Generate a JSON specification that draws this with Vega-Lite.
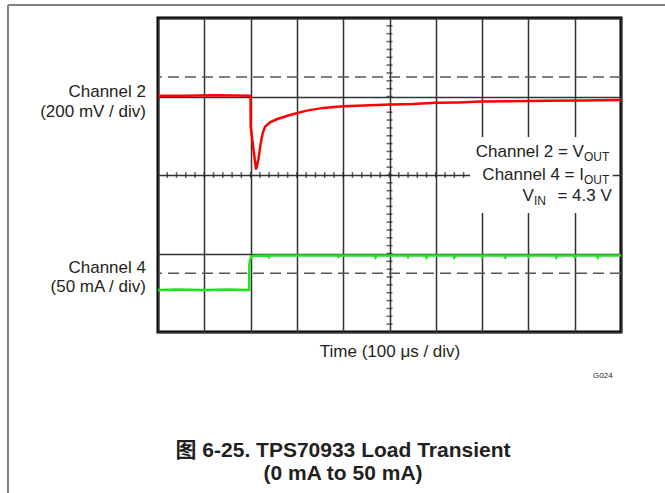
{
  "$schema": "https://vega.github.io/schema/vega-lite/v6.json",
  "width": 463,
  "height": 314,
  "autosize": {"type": "none"},
  "padding": {"left": 158, "top": 18, "right": 44, "bottom": 161},
  "background": "white",
  "config": {
    "view": {"stroke": "#000000", "strokeWidth": 3},
    "font": "Liberation Sans",
    "axis": {"domain": false, "ticks": false, "labels": false, "grid": true, "gridColor": "#333333", "gridWidth": 1.5, "gridOpacity": 1}
  },
  "datasets": {
    "frame": [
      {"t": -324, "t2": 1095, "v": 4.33, "v2": 4.33},
      {"t": -324, "t2": -324, "v": 4.33, "v2": -8.2}
    ],
    "dash": [{"v": 2.5}, {"v": -2.5}],
    "hticks": [
      {"t": 20}, {"t": 40}, {"t": 60}, {"t": 80}, {"t": 100}, {"t": 120}, {"t": 140}, {"t": 160}, {"t": 180}, {"t": 200},
      {"t": 220}, {"t": 240}, {"t": 260}, {"t": 280}, {"t": 300}, {"t": 320}, {"t": 340}, {"t": 360}, {"t": 380}, {"t": 400},
      {"t": 420}, {"t": 440}, {"t": 460}, {"t": 480}, {"t": 500}, {"t": 520}, {"t": 540}, {"t": 560}, {"t": 580}, {"t": 600},
      {"t": 620}, {"t": 640}, {"t": 660}, {"t": 680}, {"t": 700}, {"t": 720}, {"t": 740}, {"t": 760}, {"t": 780}, {"t": 800},
      {"t": 820}, {"t": 840}, {"t": 860}, {"t": 880}, {"t": 900}, {"t": 920}, {"t": 940}, {"t": 960}, {"t": 980}
    ],
    "vticks": [
      {"v": -3.8}, {"v": -3.6}, {"v": -3.4}, {"v": -3.2}, {"v": -3.0}, {"v": -2.8}, {"v": -2.6}, {"v": -2.4}, {"v": -2.2}, {"v": -2.0},
      {"v": -1.8}, {"v": -1.6}, {"v": -1.4}, {"v": -1.2}, {"v": -1.0}, {"v": -0.8}, {"v": -0.6}, {"v": -0.4}, {"v": -0.2}, {"v": 0},
      {"v": 0.2}, {"v": 0.4}, {"v": 0.6}, {"v": 0.8}, {"v": 1.0}, {"v": 1.2}, {"v": 1.4}, {"v": 1.6}, {"v": 1.8}, {"v": 2.0},
      {"v": 2.2}, {"v": 2.4}, {"v": 2.6}, {"v": 2.8}, {"v": 3.0}, {"v": 3.2}, {"v": 3.4}, {"v": 3.6}, {"v": 3.8}
    ],
    "box": [{"t": 674, "t2": 982, "v": -0.97, "v2": 0.97}],
    "ch2": [
      {"t": 0, "v": 2.02}, {"t": 60, "v": 2.02}, {"t": 120, "v": 2.03}, {"t": 199.8, "v": 2.02},
      {"t": 200.2, "v": 1.23}, {"t": 207.3, "v": 0.55}, {"t": 211.7, "v": 0.14}, {"t": 216.7, "v": 0.38},
      {"t": 221.8, "v": 0.81}, {"t": 226.1, "v": 1.06}, {"t": 231.1, "v": 1.23}, {"t": 241.9, "v": 1.34},
      {"t": 256.3, "v": 1.42}, {"t": 285, "v": 1.53}, {"t": 321, "v": 1.64}, {"t": 357, "v": 1.71},
      {"t": 400, "v": 1.75}, {"t": 445, "v": 1.77}, {"t": 487, "v": 1.79}, {"t": 550, "v": 1.81},
      {"t": 600, "v": 1.84}, {"t": 650, "v": 1.85}, {"t": 695, "v": 1.87}, {"t": 760, "v": 1.88},
      {"t": 840, "v": 1.89}, {"t": 920, "v": 1.9}, {"t": 1000, "v": 1.91}
    ],
    "ch4": [
      {"t": 0, "v": -2.93}, {"t": 40, "v": -2.92}, {"t": 100, "v": -2.93}, {"t": 150, "v": -2.92}, {"t": 196.8, "v": -2.93},
      {"t": 197.3, "v": -2.3}, {"t": 199, "v": -2.15}, {"t": 202, "v": -2.08}, {"t": 206, "v": -2.06},
      {"t": 238, "v": -2.05}, {"t": 240, "v": -2.09}, {"t": 242, "v": -2.05},
      {"t": 388, "v": -2.05}, {"t": 390, "v": -2.08}, {"t": 392, "v": -2.05},
      {"t": 468, "v": -2.05}, {"t": 470, "v": -2.1}, {"t": 472, "v": -2.05},
      {"t": 538, "v": -2.05}, {"t": 540, "v": -2.09}, {"t": 542, "v": -2.05},
      {"t": 578, "v": -2.05}, {"t": 580, "v": -2.1}, {"t": 582, "v": -2.05},
      {"t": 638, "v": -2.05}, {"t": 640, "v": -2.1}, {"t": 642, "v": -2.05},
      {"t": 698, "v": -2.05}, {"t": 700, "v": -2.09}, {"t": 702, "v": -2.05},
      {"t": 748, "v": -2.05}, {"t": 750, "v": -2.1}, {"t": 752, "v": -2.05},
      {"t": 798, "v": -2.05}, {"t": 800, "v": -2.08}, {"t": 802, "v": -2.05},
      {"t": 858, "v": -2.05}, {"t": 860, "v": -2.1}, {"t": 862, "v": -2.05},
      {"t": 898, "v": -2.05}, {"t": 900, "v": -2.09}, {"t": 902, "v": -2.05},
      {"t": 948, "v": -2.05}, {"t": 950, "v": -2.1}, {"t": 952, "v": -2.05},
      {"t": 1000, "v": -2.05}
    ],
    "side": [
      {"t": -26, "v": 1.975, "text": "Channel 2"},
      {"t": -26, "v": 1.478, "text": "(200 mV / div)"},
      {"t": -26, "v": -2.497, "text": "Channel 4"},
      {"t": -26, "v": -2.98, "text": "(50 mA / div)"}
    ],
    "ann": [
      {"t": 920, "v": 0.459, "text": "Channel 2 = V"},
      {"t": 920, "v": -0.127, "text": "Channel 4 = I"},
      {"t": 812, "v": -0.675, "text": "V"},
      {"t": 980, "v": -0.675, "text": "= 4.3 V"}
    ],
    "sub": [
      {"t": 920, "v": 0.357, "text": "OUT"},
      {"t": 920, "v": -0.229, "text": "OUT"},
      {"t": 812, "v": -0.777, "text": "IN"}
    ],
    "gid": [{"t": 982, "v": -5.17, "text": "G024"}],
    "caption": [
      {"t": 399.6, "v": -7.18, "text": "图 6-25. TPS70933 Load Transient"},
      {"t": 399.6, "v": -7.77, "text": "(0 mA to 50 mA)"}
    ]
  },
  "layer": [
    {
      "data": {"name": "dash"},
      "mark": {"type": "rule", "color": "#555555", "strokeWidth": 1.5, "strokeDash": [11, 6]},
      "encoding": {
        "y": {"field": "v", "type": "quantitative", "scale": {"domain": [-4, 4], "nice": false, "zero": false},
              "axis": {"values": [-4, -3, -2, -1, 0, 1, 2, 3, 4], "title": null}}
      }
    },
    {
      "data": {"name": "hticks"},
      "mark": {"type": "tick", "orient": "vertical", "color": "#222222", "size": 6, "thickness": 1.5},
      "encoding": {
        "x": {"field": "t", "type": "quantitative", "scale": {"domain": [0, 1000], "nice": false, "zero": false},
              "axis": {"values": [0, 100, 200, 300, 400, 500, 600, 700, 800, 900, 1000], "title": "Time (100 μs / div)",
                       "titleFontSize": 17, "titleFontWeight": "normal", "titleColor": "#231f20", "titlePadding": 11, "titleFont": "Liberation Sans"}},
        "y": {"datum": 0, "type": "quantitative"}
      }
    },
    {
      "data": {"name": "vticks"},
      "mark": {"type": "tick", "orient": "horizontal", "color": "#222222", "size": 6, "thickness": 1.5},
      "encoding": {
        "x": {"datum": 500, "type": "quantitative"},
        "y": {"field": "v", "type": "quantitative"}
      }
    },
    {
      "data": {"name": "box"},
      "mark": {"type": "rect", "fill": "white"},
      "encoding": {
        "x": {"field": "t", "type": "quantitative"},
        "x2": {"field": "t2"},
        "y": {"field": "v", "type": "quantitative"},
        "y2": {"field": "v2"}
      }
    },
    {
      "data": {"name": "frame"},
      "mark": {"type": "rule", "color": "#808080", "strokeWidth": 2},
      "encoding": {
        "x": {"field": "t", "type": "quantitative"},
        "x2": {"field": "t2"},
        "y": {"field": "v", "type": "quantitative"},
        "y2": {"field": "v2"}
      }
    },
    {
      "data": {"name": "ch4"},
      "mark": {"type": "line", "color": "#1ee61e", "strokeWidth": 2.5, "interpolate": "linear"},
      "encoding": {
        "x": {"field": "t", "type": "quantitative"},
        "y": {"field": "v", "type": "quantitative"}
      }
    },
    {
      "data": {"name": "ch2"},
      "mark": {"type": "line", "color": "#ff0000", "strokeWidth": 2.5, "interpolate": "linear"},
      "encoding": {
        "x": {"field": "t", "type": "quantitative"},
        "y": {"field": "v", "type": "quantitative"}
      }
    },
    {
      "data": {"name": "side"},
      "mark": {"type": "text", "align": "right", "baseline": "alphabetic", "fontSize": 17, "color": "#231f20", "font": "Liberation Sans"},
      "encoding": {
        "x": {"field": "t", "type": "quantitative"},
        "y": {"field": "v", "type": "quantitative"},
        "text": {"field": "text"}
      }
    },
    {
      "data": {"name": "ann"},
      "mark": {"type": "text", "align": "right", "baseline": "alphabetic", "fontSize": 17, "color": "#231f20", "font": "Liberation Sans"},
      "encoding": {
        "x": {"field": "t", "type": "quantitative"},
        "y": {"field": "v", "type": "quantitative"},
        "text": {"field": "text"}
      }
    },
    {
      "data": {"name": "sub"},
      "mark": {"type": "text", "align": "left", "baseline": "alphabetic", "fontSize": 12, "color": "#231f20", "font": "Liberation Sans"},
      "encoding": {
        "x": {"field": "t", "type": "quantitative"},
        "y": {"field": "v", "type": "quantitative"},
        "text": {"field": "text"}
      }
    },
    {
      "data": {"name": "gid"},
      "mark": {"type": "text", "align": "right", "baseline": "alphabetic", "fontSize": 8, "color": "#231f20", "font": "Liberation Sans"},
      "encoding": {
        "x": {"field": "t", "type": "quantitative"},
        "y": {"field": "v", "type": "quantitative"},
        "text": {"field": "text"}
      }
    },
    {
      "data": {"name": "caption"},
      "mark": {"type": "text", "align": "center", "baseline": "alphabetic", "fontSize": 21, "fontWeight": "bold", "color": "#231f20", "font": "Liberation Sans, Noto Sans CJK SC, sans-serif"},
      "encoding": {
        "x": {"field": "t", "type": "quantitative"},
        "y": {"field": "v", "type": "quantitative"},
        "text": {"field": "text"}
      }
    }
  ]
}
